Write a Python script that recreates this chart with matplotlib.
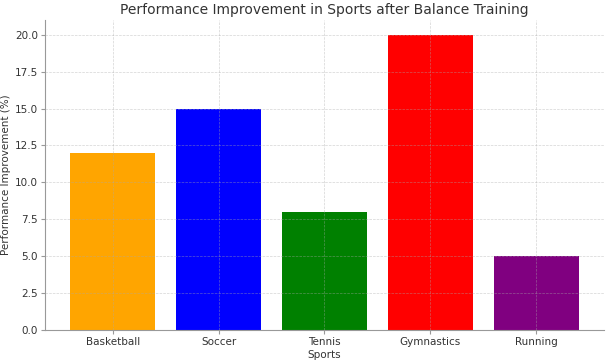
import matplotlib.pyplot as plt

sports = ["Basketball", "Soccer", "Tennis", "Gymnastics", "Running"]
improvement = [12, 15, 8, 20, 5]
colors = ["orange", "blue", "green", "red", "purple"]

fig, ax = plt.subplots(figsize=(6.07, 3.62), dpi=100)
ax.bar(sports, improvement, color=colors, width=0.8)

ax.set_title("Performance Improvement in Sports after Balance Training", fontsize=10, color="#333333", pad=4)
ax.set_xlabel("Sports", fontsize=7.5, color="#333333", labelpad=2)
ax.set_ylabel("Performance Improvement (%)", fontsize=7.5, color="#333333", labelpad=3)
ax.set_yticks([0, 2.5, 5, 7.5, 10, 12.5, 15, 17.5, 20])
ax.set_yticklabels(["0.0", "2.5", "5.0", "7.5", "10.0", "12.5", "15.0", "17.5", "20.0"])
ax.tick_params(labelsize=7.5, colors="#333333", length=3, color="#999999", pad=2)
ax.set_axisbelow(False)
ax.grid(True, linestyle="--", linewidth=0.5, color="#aaaaaa", alpha=0.5)

for side in ["top", "right"]:
    ax.spines[side].set_visible(False)
for side in ["left", "bottom"]:
    ax.spines[side].set_color("#999999")

plt.subplots_adjust(left=0.074, right=0.995, top=0.945, bottom=0.088)
plt.savefig("out.png")
